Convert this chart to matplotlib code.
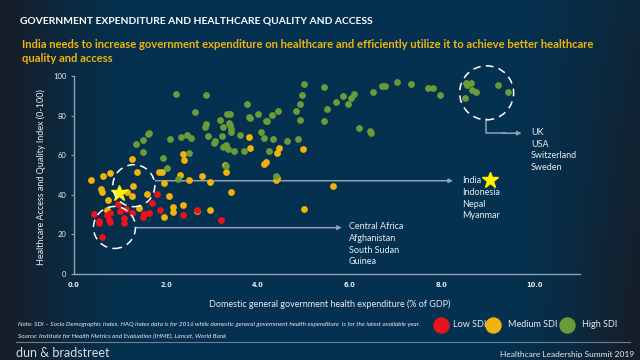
import matplotlib
matplotlib.use('Agg')
import matplotlib.pyplot as plt
import numpy as np
from matplotlib.patches import Ellipse

# low SDI (red)
low_x = [0.43, 0.54, 0.55, 0.61, 0.71, 0.79, 0.76, 0.78, 0.96, 0.99, 1.09, 1.08, 1.14,
         1.26, 1.51, 1.53, 1.64, 1.70, 1.80, 1.86, 2.37, 2.68, 3.20]
low_y = [30.1, 26.8, 25.6, 18.6, 29.8, 30.8, 27.4, 26.2, 35.4, 31.8, 28.2, 25.6, 32.6,
         31.0, 28.6, 30.3, 31.0, 36.0, 40.6, 32.2, 29.9, 32.2, 27.4]

# medium SDI (yellow)
med_x = [0.38, 0.61, 0.59, 0.63, 0.78, 0.73, 0.72, 1.25, 1.38, 1.28, 1.15, 1.26, 1.58,
         1.41, 1.84, 1.91, 1.96, 2.07, 2.16, 2.15, 1.96, 2.38, 2.68, 2.95, 2.30, 2.51,
         2.78, 2.95, 2.36, 2.39, 3.29, 3.30, 3.41, 3.80, 3.83, 4.13, 4.17, 4.40, 4.42,
         4.41, 4.45, 4.98, 4.99, 5.63]
med_y = [47.6, 41.6, 42.8, 49.6, 51.1, 37.5, 32.3, 58.1, 51.3, 44.6, 41.3, 39.4, 40.4,
         33.4, 51.4, 51.7, 46.0, 39.4, 34.0, 31.3, 28.9, 35.1, 31.6, 32.4, 50.1, 47.5,
         49.6, 46.6, 60.4, 57.8, 55.2, 51.4, 41.6, 69.4, 63.7, 55.7, 56.5, 47.6, 48.5,
         61.3, 63.6, 63.0, 32.6, 44.6]

# high SDI (green)
high_x = [1.35, 1.51, 1.51, 1.60, 1.62, 1.93, 2.02, 2.25, 2.08, 2.21, 2.33, 2.46, 2.54,
          2.51, 2.62, 2.88, 2.85, 2.88, 2.91, 3.07, 3.04, 3.17, 3.23, 3.22, 3.24, 3.30,
          3.34, 3.31, 3.32, 3.39, 3.38, 3.40, 3.41, 3.41, 3.47, 3.60, 3.69, 3.76, 3.80,
          3.82, 4.01, 4.06, 4.14, 4.17, 4.20, 4.24, 4.30, 4.32, 4.39, 4.43, 4.64, 4.83,
          4.88, 4.91, 4.91, 4.96, 5.01, 5.43, 5.49, 5.43, 5.69, 5.84, 5.95, 6.02, 6.09,
          6.20, 6.44, 6.45, 6.51, 6.70, 6.75, 7.02, 7.32, 7.69, 7.80, 7.95, 8.49, 8.52,
          8.64, 8.54, 8.65, 8.74, 9.22, 9.43]
high_y = [65.6, 67.8, 61.6, 70.7, 71.2, 58.4, 53.4, 48.0, 68.2, 90.8, 69.1, 70.2, 68.7,
          61.3, 81.7, 90.3, 74.4, 75.6, 69.7, 67.2, 66.2, 77.9, 74.4, 69.9, 64.1, 65.0,
          63.0, 54.5, 80.8, 80.8, 76.4, 75.2, 73.0, 71.6, 62.1, 70.4, 62.1, 85.8, 79.1,
          78.6, 81.0, 71.9, 68.6, 77.2, 77.2, 62.3, 80.5, 68.4, 49.6, 82.5, 67.3, 82.2,
          68.0, 77.8, 85.9, 90.5, 96.1, 94.6, 83.5, 77.3, 87.1, 90.1, 85.9, 89.1, 90.9,
          73.6, 72.4, 71.1, 92.1, 95.0, 95.2, 97.1, 96.1, 93.8, 94.1, 90.6, 88.9, 96.6,
          96.3, 95.3, 92.9, 91.7, 95.7, 92.1]

india_x = [0.98]
india_y = [41.1]

x_ticks = [0.0, 2.0, 4.0, 6.0, 8.0, 10.0]
y_ticks = [0, 20, 40, 60, 80, 100]
sdi_labels = ['Low SDI', 'Medium SDI', 'High SDI']
india_group = ['India', 'Indonesia', 'Nepal', 'Myanmar']
low_group = ['Central Africa', 'Afghanistan', 'South Sudan', 'Guinea']
high_group = ['UK', 'USA', 'Switzerland', 'Sweden']

RED = '#E8141B'
YELLOW = '#F0B30C'
GREEN = '#6B9A3A'
NAVY = np.array([4, 49, 79]) / 255.
DARK = np.array([24, 28, 37]) / 255.
LINE = '#8FA1B3'
TXT = '#E6ECF2'

plt.rcParams['font.family'] = ['Lato', 'DejaVu Sans']

fig = plt.figure(figsize=(6.4, 3.6), dpi=100)

# background gradient, also used as a pixel canvas for decorations
bg = fig.add_axes([0, 0, 1, 1])
gx = np.linspace(0, 1, 320)
gy = np.linspace(0, 1, 180)
X, Y = np.meshgrid(gx, gy)
f = np.maximum(np.clip(1 - X / 0.2, 0, 1) ** 1.3,
               np.clip((X - 0.8) / 0.2, 0, 1) ** 1.3 * (0.5 + 0.5 * Y))
img = NAVY[None, None, :] * (1 - f[..., None]) + DARK[None, None, :] * f[..., None]
bg.imshow(img, extent=[0, 640, 360, 0], aspect='auto')
bg.set_xlim(0, 640)
bg.set_ylim(360, 0)
bg.axis('off')

# main axes
ax = fig.add_axes([74 / 640, 1 - 274 / 360, 506 / 640, 198 / 360])
ax.patch.set_alpha(0)
ax.scatter(med_x, med_y, s=24, color=YELLOW, linewidths=0, zorder=3, clip_on=False)
ax.scatter(low_x, low_y, s=24, color=RED, linewidths=0, zorder=4, clip_on=False)
ax.scatter(high_x, high_y, s=24, color=GREEN, linewidths=0, zorder=5, clip_on=False)
ax.plot(india_x, india_y, marker='*', ms=12, color='#FFF200', mec='#FFF200', ls='none', zorder=6)

ax.set_xlim(0, 11)
ax.set_ylim(0, 100)
ax.set_xticks(x_ticks)
ax.set_xticklabels(['%.1f' % t for t in x_ticks], fontsize=4.8, fontweight='bold',
                   color=TXT, family='DejaVu Sans')
ax.set_yticks(y_ticks)
ax.set_yticklabels([str(t) for t in y_ticks], fontsize=5.5, color=TXT)
ax.tick_params(axis='x', length=0, pad=6)
ax.tick_params(axis='y', length=2.5, color=LINE, pad=3)
for s in ['top', 'right']:
    ax.spines[s].set_visible(False)
for s in ['left', 'bottom']:
    ax.spines[s].set_color(LINE)
    ax.spines[s].set_linewidth(1)

# dashed circles (21 px radius near origin, 27 px for top cluster)
def circle(cx, cy, r):
    e = Ellipse((cx, cy), 2 * r / 46, 2 * r / 1.98, fill=False, ec='white',
                lw=1.1, ls=(0, (5, 3.5)), zorder=7, clip_on=False)
    ax.add_patch(e)

circle(1.30, 44.6, 21)
circle(0.88, 23.5, 21)
circle(8.97, 91.5, 27)

arrow = dict(arrowstyle='-|>', color=LINE, lw=1.1, mutation_scale=6, shrinkA=0, shrinkB=0)
ax.annotate('', xy=(8.24, 47.1), xytext=(1.77, 47.1), arrowprops=arrow, zorder=2)
ax.annotate('', xy=(5.82, 23.4), xytext=(1.36, 23.4), arrowprops=arrow, zorder=2)
ax.plot([8.95, 8.95, 9.4], [78.1, 71.1, 71.1], color=LINE, lw=1.1, clip_on=False)
ax.annotate('', xy=(9.73, 71.1), xytext=(9.3, 71.1), arrowprops=arrow)

def group_text(x, y, names):
    for i, n in enumerate(names):
        ax.text(x, y - i * 5.9, n, fontsize=6.5, color=TXT, va='center', ha='left',
                clip_on=False)

group_text(8.43, 47.1, india_group)
group_text(5.98, 23.9, low_group)
group_text(9.93, 71.4, high_group)
ax.plot([9.04], [47.3], marker='*', ms=12, color='#FFF200', ls='none', clip_on=False)

# titles
fig.text(20 / 640, 1 - 21 / 360, 'GOVERNMENT EXPENDITURE AND HEALTHCARE QUALITY AND ACCESS',
         fontsize=7.4, fontweight='bold', color='white', va='center')
fig.text(22 / 640, 1 - 44 / 360,
         'India needs to increase government expenditure on healthcare and efficiently utilize it to achieve better healthcare',
         fontsize=8.1, fontweight='bold', color=YELLOW, va='center')
fig.text(22 / 640, 1 - 59 / 360, 'quality and access',
         fontsize=8.1, fontweight='bold', color=YELLOW, va='center')

fig.text(330 / 640, 1 - 304 / 360, 'Domestic general government health expenditure (% of GDP)',
         fontsize=6.5, color=TXT, ha='center', va='center')
fig.text(41.7 / 640, 1 - 177 / 360, 'Healthcare Access and Quality Index (0-100)',
         fontsize=6.5, color=TXT, ha='center', va='center', rotation=90)

# notes
fig.text(18 / 640, 1 - 324.5 / 360,
         'Note: SDI \u2013 Socio Demographic Index. HAQ index data is for 2016 while domestic general '
         'government health expenditure  is for the latest available year.',
         fontsize=4.55, style='italic', color=TXT, va='center')
fig.text(18 / 640, 1 - 336 / 360,
         'Source: Institute for Health Metrics and Evaluation (IHME), Lancet, World Bank',
         fontsize=4.55, style='italic', color=TXT, va='center')

# legend
leg_cx = [441, 493, 567]
leg_tx = [453, 508, 582]
for c, lx, tx, lab in zip([RED, YELLOW, GREEN], leg_cx, leg_tx, sdi_labels):
    bg.scatter([lx], [324.5], s=140, color=c, linewidths=0)
    bg.text(tx, 324.5, lab, fontsize=6.5, color=TXT, va='center', ha='left')

# footer
bg.plot([16, 630], [341.6, 341.6], color='#6F7F8F', lw=0.8)
bg.text(16, 353, 'dun & bradstreet', fontsize=9, color='#D8DDE3', va='center', ha='left')
bg.text(634, 354, 'Healthcare Leadership Summit 2019', fontsize=6, color=TXT,
        va='center', ha='right')

fig.savefig('out.png', dpi=100)
